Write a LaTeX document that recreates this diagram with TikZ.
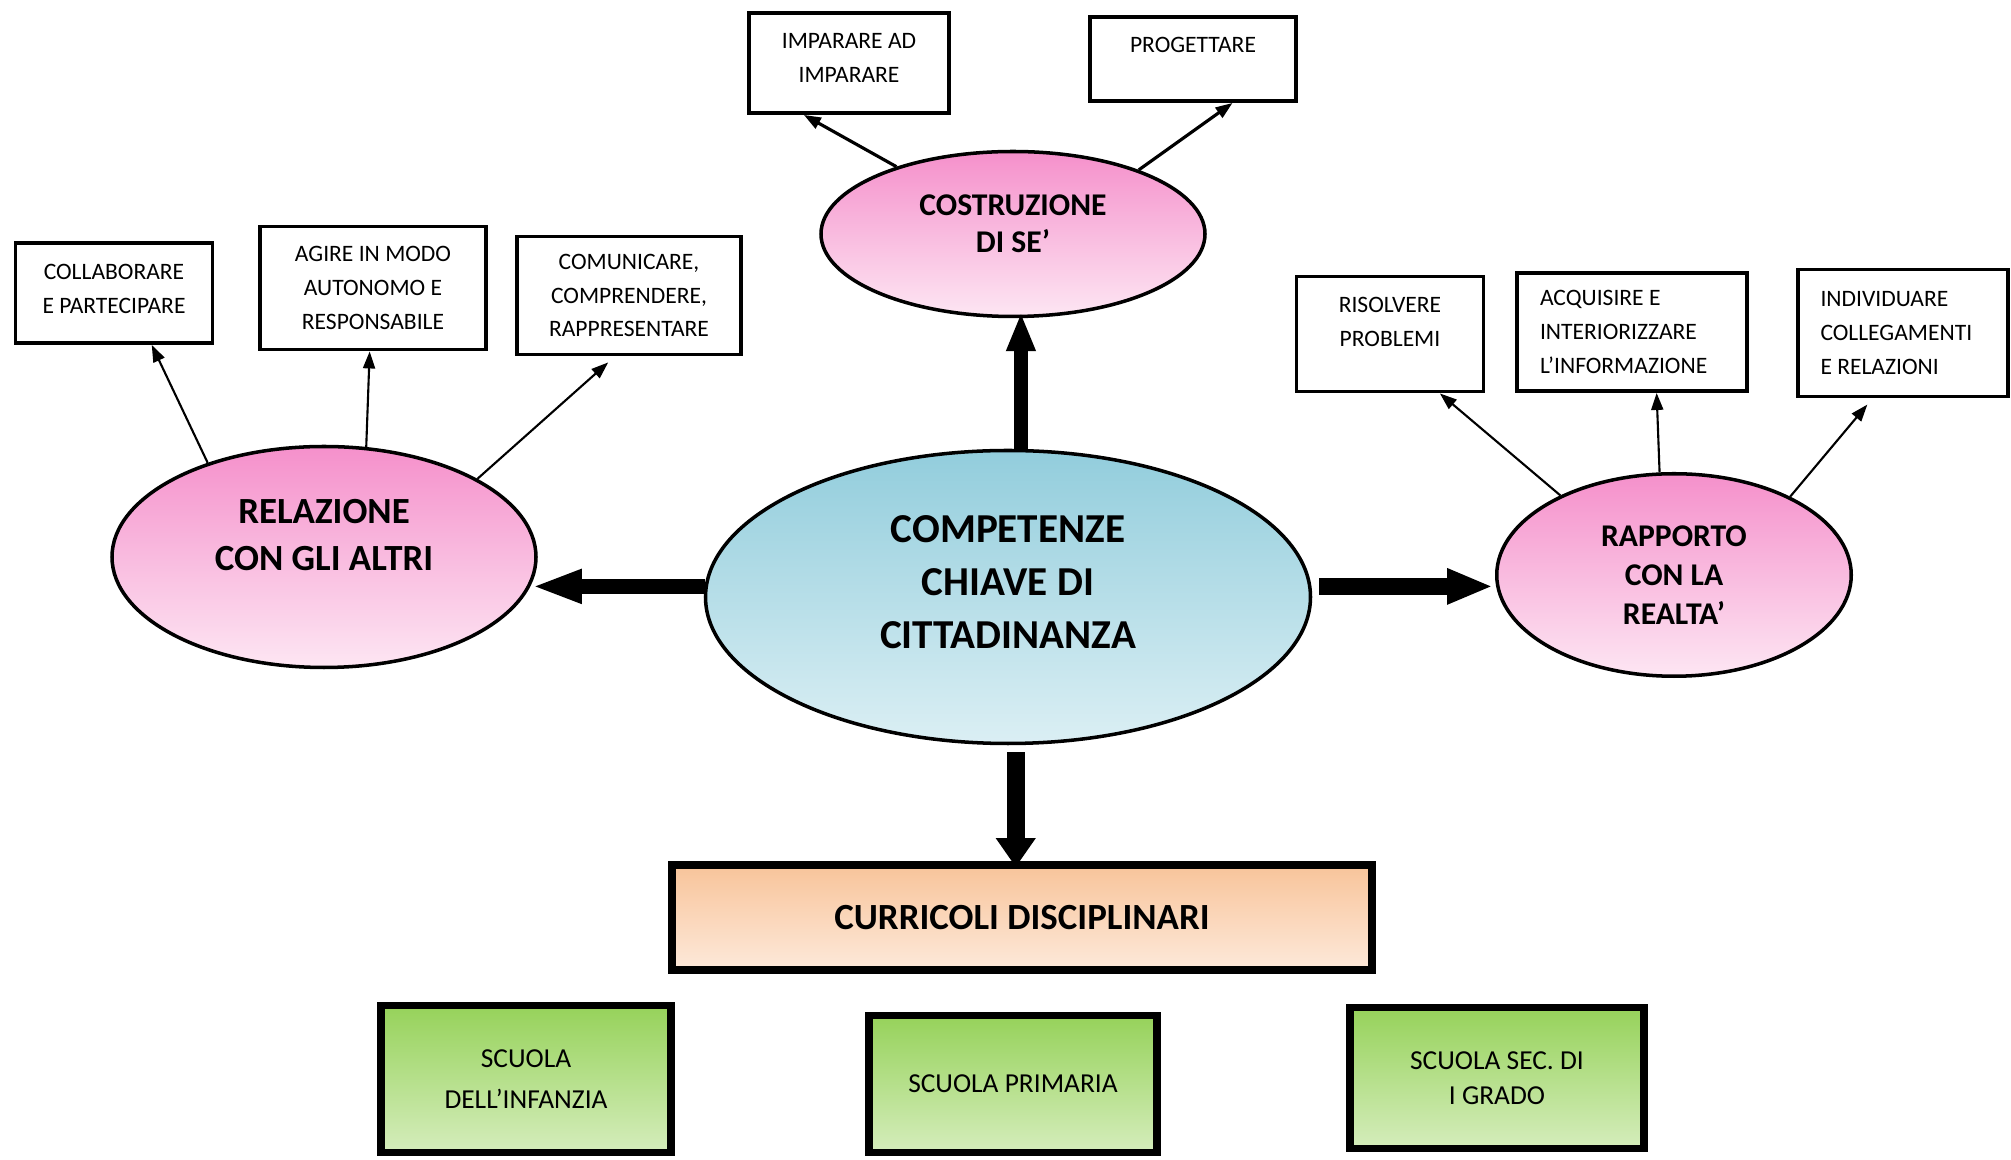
\documentclass[tikz,border=0pt]{standalone}
\usepackage{fontspec}
\setmainfont{Carlito}
\usetikzlibrary{shapes.geometric,arrows.meta,calc}

\definecolor{pinkTop}{HTML}{F590CB}
\definecolor{pinkBot}{HTML}{FDE6F3}
\definecolor{aquaTop}{HTML}{92CDDC}
\definecolor{aquaBot}{HTML}{DBEFF4}
\definecolor{peachTop}{HTML}{F8C49A}
\definecolor{peachBot}{HTML}{FDE9DA}
\definecolor{limeTop}{HTML}{96D25A}
\definecolor{limeBot}{HTML}{D5EDBC}

\tikzset{
  centre/.style={ellipse, draw, line width=1pt, inner sep=0pt, top color=aquaTop, bottom color=aquaBot},
  oval/.style={ellipse, draw, line width=1pt, inner sep=0pt, top color=pinkTop, bottom color=pinkBot},
  title/.style={align=center, font=\bfseries#1},
  leaf/.style={draw, line width=1.1pt, inner sep=2pt, align=center, font=\fontsize{6.7}{9.6}\selectfont},
  school/.style={draw, line width=2.2pt, inner sep=0pt, top color=limeTop, bottom color=limeBot, align=center, font=\fontsize{7.8}{10}\selectfont},
  link/.style={line width=0.6pt, -{Triangle[length=1.7mm,width=1.2mm]}},
  bigarrow/.style n args={3}{line width=#1, -{Triangle[length=#2,width=#3]}, shorten >=-0.06cm},
}

\begin{document}
\begin{tikzpicture}
  \useasboundingbox (0,0) rectangle (20.11,11.60);

  % ellipses
  \node[centre, minimum width=6.05cm, minimum height=2.93cm] (cc) at (10.08,5.63) {};
  \node[title=\fontsize{11.7}{15}\selectfont] (cc-txt) at ([yshift=0.15cm]cc.center) {COMPETENZE\\CHIAVE DI\\CITTADINANZA};
  \node[oval, minimum width=3.84cm, minimum height=1.65cm] (cos) at (10.13,9.26) {};
  \node[title=\fontsize{9}{10.5}\selectfont] (cos-txt) at ([yshift=0.1cm]cos.center) {COSTRUZIONE\\DI SE’};
  \node[oval, minimum width=4.24cm, minimum height=2.21cm] (rel) at (3.24,6.03) {};
  \node[title=\fontsize{10.5}{13.5}\selectfont] (rel-txt) at ([yshift=0.22cm]rel.center) {RELAZIONE\\CON GLI ALTRI};
  \node[oval, title=\fontsize{9}{11}\selectfont, minimum width=3.545cm, minimum height=2.025cm] (rap) at (16.74,5.85) {RAPPORTO\\CON LA\\REALTA’};

  % small boxes
  \node[leaf, minimum width=1.97cm, minimum height=1.00cm] (collab) at (1.14,8.67) {COLLABORARE\\E PARTECIPARE\\[-7.4pt]~};
  \node[leaf, minimum width=2.26cm, minimum height=1.23cm] (agire) at (3.73,8.72) {AGIRE IN MODO\\AUTONOMO E\\RESPONSABILE};
  \node[leaf, minimum width=2.24cm, minimum height=1.18cm] (comun) at (6.29,8.645) {COMUNICARE,\\COMPRENDERE,\\RAPPRESENTARE};
  \node[leaf, minimum width=2.00cm, minimum height=1.00cm] (impar) at (8.49,10.97) {IMPARARE AD\\IMPARARE\\[-6.8pt]~};
  \node[leaf, minimum width=2.06cm, minimum height=0.84cm] (prog) at (11.93,11.01) {PROGETTARE\\[-1.6pt]~};
  \node[leaf, minimum width=1.87cm, minimum height=1.15cm] (risol) at (13.90,8.26) {RISOLVERE\\PROBLEMI\\[-2.9pt]~};
  \node[leaf, align=flush left, text width=1.84cm, inner xsep=0.23cm, minimum height=1.18cm] (acqu) at (16.32,8.28) {ACQUISIRE E\\INTERIORIZZARE\\L’INFORMAZIONE};
  \node[leaf, align=flush left, text width=1.65cm, inner xsep=0.225cm, minimum height=1.27cm] (indiv) at (19.03,8.27) {INDIVIDUARE\\COLLEGAMENTI\\E RELAZIONI};

  % bottom boxes
  \node[draw, line width=2.2pt, top color=peachTop, bottom color=peachBot, minimum width=7.0cm, minimum height=1.05cm, font=\bfseries\fontsize{10.5}{12}\selectfont] (curr) at (10.22,2.425) {CURRICOLI DISCIPLINARI};
  \node[school, minimum width=2.90cm, minimum height=1.47cm] (inf) at (5.26,0.81) {SCUOLA\\[1.7pt]DELL’INFANZIA};
  \node[school, minimum width=2.88cm, minimum height=1.37cm] (prim) at (10.13,0.76) {SCUOLA PRIMARIA};
  \node[school, minimum width=2.94cm, minimum height=1.41cm] (sec) at (14.97,0.82) {SCUOLA SEC. DI\\I GRADO};

  % block arrows
  \draw[bigarrow={0.14cm}{0.39cm}{0.27cm}] (cc.85) -- (cc.85 |- cos.south);
  \draw[bigarrow={0.15cm}{0.50cm}{0.31cm}] (cc.178) -- (cc.178 -| rel.east);
  \draw[bigarrow={0.17cm}{0.46cm}{0.33cm}, shorten <=0.08cm, shorten >=0.02cm] (cc.2) -- (cc.2 -| rap.west);
  \draw[bigarrow={0.18cm}{0.29cm}{0.38cm}, shorten <=0.07cm] (cc.-87) -- (cc.-87 |- curr.north);

  % thin arrows
  \draw[link] (rel.141) -- (collab.-54);
  \draw[link] (rel.69) -- (agire.-93);
  \draw[link, shorten >=0.09cm] (rel.27) -- (comun.-103);
  \draw[link, line width=0.9pt] (cos.150) -- (impar.-131);
  \draw[link, line width=0.9pt] (cos.27) -- (prog.-48);
  \draw[link] (rap.145) -- (risol.-50);
  \draw[link] (rap.98) -- (acqu.-68);
  \draw[link, shorten >=0.08cm] (rap.34) -- (indiv.-115);
\end{tikzpicture}
\end{document}
